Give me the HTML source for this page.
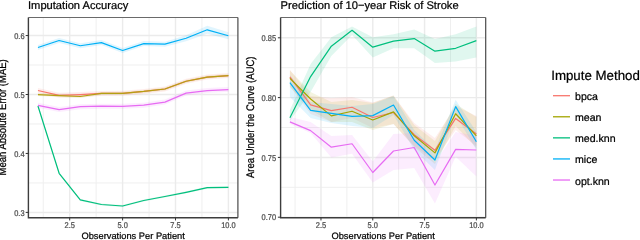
<!DOCTYPE html>
<html><head><meta charset="utf-8"><style>
html,body{margin:0;padding:0;background:#fff;width:640px;height:240px;overflow:hidden}
svg{display:block;will-change:transform}
text{font-family:"Liberation Sans",sans-serif;text-rendering:geometricPrecision;stroke-width:0.22px}
</style></head><body>
<svg width="640" height="240" viewBox="0 0 640 240">
<rect x="0" y="0" width="640" height="240" fill="#fff"/>

<rect x="28.4" y="17.5" width="209.5" height="200.25" fill="#fff"/>
<line x1="43.25" y1="17.5" x2="43.25" y2="217.75" stroke="#EFEFEF" stroke-width="1.0"/>
<line x1="96.15" y1="17.5" x2="96.15" y2="217.75" stroke="#EFEFEF" stroke-width="1.0"/>
<line x1="149.05" y1="17.5" x2="149.05" y2="217.75" stroke="#EFEFEF" stroke-width="1.0"/>
<line x1="201.95" y1="17.5" x2="201.95" y2="217.75" stroke="#EFEFEF" stroke-width="1.0"/>
<line x1="28.4" y1="182.93" x2="237.9" y2="182.93" stroke="#EFEFEF" stroke-width="1.0"/>
<line x1="28.4" y1="123.97" x2="237.9" y2="123.97" stroke="#EFEFEF" stroke-width="1.0"/>
<line x1="28.4" y1="65.02" x2="237.9" y2="65.02" stroke="#EFEFEF" stroke-width="1.0"/>
<line x1="69.70" y1="17.5" x2="69.70" y2="217.75" stroke="#EBEBEB" stroke-width="1.45"/>
<line x1="122.60" y1="17.5" x2="122.60" y2="217.75" stroke="#EBEBEB" stroke-width="1.45"/>
<line x1="175.50" y1="17.5" x2="175.50" y2="217.75" stroke="#EBEBEB" stroke-width="1.45"/>
<line x1="228.40" y1="17.5" x2="228.40" y2="217.75" stroke="#EBEBEB" stroke-width="1.45"/>
<line x1="28.4" y1="212.40" x2="237.9" y2="212.40" stroke="#EBEBEB" stroke-width="1.45"/>
<line x1="28.4" y1="153.45" x2="237.9" y2="153.45" stroke="#EBEBEB" stroke-width="1.45"/>
<line x1="28.4" y1="94.50" x2="237.9" y2="94.50" stroke="#EBEBEB" stroke-width="1.45"/>
<line x1="28.4" y1="35.55" x2="237.9" y2="35.55" stroke="#EBEBEB" stroke-width="1.45"/>
<polygon points="37.96,88.00 59.12,92.80 80.28,92.10 101.44,90.95 122.60,90.80 143.76,88.90 164.92,86.50 186.08,78.75 207.24,74.60 228.40,73.10 228.40,78.10 207.24,79.60 186.08,83.75 164.92,91.50 143.76,93.90 122.60,95.80 101.44,95.95 80.28,97.10 59.12,97.80 37.96,93.00" fill="#F8766D" fill-opacity="0.12"/>
<polygon points="37.96,93.10 59.12,94.10 80.28,95.00 101.44,91.95 122.60,91.80 143.76,89.90 164.92,87.50 186.08,79.75 207.24,75.60 228.40,74.10 228.40,77.10 207.24,78.60 186.08,82.75 164.92,90.50 143.76,92.90 122.60,94.80 101.44,94.95 80.28,98.00 59.12,97.10 37.96,96.10" fill="#A3A500" fill-opacity="0.12"/>
<polygon points="37.96,105.00 59.12,172.30 80.28,198.90 101.44,203.50 122.60,205.00 143.76,199.50 164.92,195.50 186.08,191.30 207.24,186.70 228.40,186.30 228.40,188.30 207.24,188.70 186.08,193.30 164.92,197.50 143.76,201.50 122.60,207.00 101.44,205.50 80.28,200.90 59.12,174.30 37.96,107.00" fill="#00BF7D" fill-opacity="0.12"/>
<polygon points="37.96,45.00 59.12,38.00 80.28,43.25 101.44,40.10 122.60,48.00 143.76,41.10 164.92,41.70 186.08,35.25 207.24,25.80 228.40,32.25 228.40,39.25 207.24,33.80 186.08,41.25 164.92,46.70 143.76,46.10 122.60,53.00 101.44,45.10 80.28,48.25 59.12,43.00 37.96,50.00" fill="#00B0F6" fill-opacity="0.12"/>
<polygon points="37.96,102.80 59.12,107.10 80.28,104.20 101.44,103.70 122.60,103.80 143.76,102.70 164.92,99.60 186.08,90.60 207.24,88.10 228.40,87.10 228.40,92.10 207.24,93.10 186.08,95.60 164.92,104.60 143.76,107.70 122.60,108.80 101.44,108.70 80.28,109.20 59.12,112.10 37.96,107.80" fill="#E76BF3" fill-opacity="0.12"/>
<polyline points="37.96,90.50 59.12,95.30 80.28,94.60 101.44,93.45 122.60,93.30 143.76,91.40 164.92,89.00 186.08,81.25 207.24,77.10 228.40,75.60" fill="none" stroke="#F8766D" stroke-width="1.2" stroke-linejoin="round"/>
<polyline points="37.96,94.60 59.12,95.60 80.28,96.50 101.44,93.45 122.60,93.30 143.76,91.40 164.92,89.00 186.08,81.25 207.24,77.10 228.40,75.60" fill="none" stroke="#B5A012" stroke-width="1.2" stroke-linejoin="round"/>
<polyline points="37.96,106.00 59.12,173.30 80.28,199.90 101.44,204.50 122.60,206.00 143.76,200.50 164.92,196.50 186.08,192.30 207.24,187.70 228.40,187.30" fill="none" stroke="#00BF7D" stroke-width="1.2" stroke-linejoin="round"/>
<polyline points="37.96,47.50 59.12,40.50 80.28,45.75 101.44,42.60 122.60,50.50 143.76,43.60 164.92,44.20 186.08,38.25 207.24,29.80 228.40,35.75" fill="none" stroke="#00B0F6" stroke-width="1.2" stroke-linejoin="round"/>
<polyline points="37.96,105.30 59.12,109.60 80.28,106.70 101.44,106.20 122.60,106.30 143.76,105.20 164.92,102.10 186.08,93.10 207.24,90.60 228.40,89.60" fill="none" stroke="#E76BF3" stroke-width="1.2" stroke-linejoin="round"/>
<line x1="28.4" y1="17.5" x2="237.9" y2="17.5" stroke="#6a6a6a" stroke-width="1"/>
<line x1="237.9" y1="17.5" x2="237.9" y2="217.75" stroke="#4a4a4a" stroke-width="1.2"/>
<polyline points="28.4,17.5 28.4,217.75 237.9,217.75" fill="none" stroke="#3d3d3d" stroke-width="1.4"/>
<line x1="25.7" y1="212.40" x2="28.4" y2="212.40" stroke="#333" stroke-width="1"/>
<text transform="translate(24.55,215.60) scale(1,1.12)" font-size="7.45" fill="#4D4D4D" stroke="#4D4D4D" stroke-width="0.08" text-anchor="end">0.3</text>
<line x1="25.7" y1="153.45" x2="28.4" y2="153.45" stroke="#333" stroke-width="1"/>
<text transform="translate(24.55,156.65) scale(1,1.12)" font-size="7.45" fill="#4D4D4D" stroke="#4D4D4D" stroke-width="0.08" text-anchor="end">0.4</text>
<line x1="25.7" y1="94.50" x2="28.4" y2="94.50" stroke="#333" stroke-width="1"/>
<text transform="translate(24.55,97.70) scale(1,1.12)" font-size="7.45" fill="#4D4D4D" stroke="#4D4D4D" stroke-width="0.08" text-anchor="end">0.5</text>
<line x1="25.7" y1="35.55" x2="28.4" y2="35.55" stroke="#333" stroke-width="1"/>
<text transform="translate(24.55,38.75) scale(1,1.12)" font-size="7.45" fill="#4D4D4D" stroke="#4D4D4D" stroke-width="0.08" text-anchor="end">0.6</text>
<line x1="69.70" y1="217.75" x2="69.70" y2="220.45" stroke="#333" stroke-width="1"/>
<text transform="translate(69.70,227.9) scale(1,1.12)" font-size="7.45" fill="#4D4D4D" stroke="#4D4D4D" stroke-width="0.08" text-anchor="middle">2.5</text>
<line x1="122.60" y1="217.75" x2="122.60" y2="220.45" stroke="#333" stroke-width="1"/>
<text transform="translate(122.60,227.9) scale(1,1.12)" font-size="7.45" fill="#4D4D4D" stroke="#4D4D4D" stroke-width="0.08" text-anchor="middle">5.0</text>
<line x1="175.50" y1="217.75" x2="175.50" y2="220.45" stroke="#333" stroke-width="1"/>
<text transform="translate(175.50,227.9) scale(1,1.12)" font-size="7.45" fill="#4D4D4D" stroke="#4D4D4D" stroke-width="0.08" text-anchor="middle">7.5</text>
<line x1="228.40" y1="217.75" x2="228.40" y2="220.45" stroke="#333" stroke-width="1"/>
<text transform="translate(228.40,227.9) scale(1,1.12)" font-size="7.45" fill="#4D4D4D" stroke="#4D4D4D" stroke-width="0.08" text-anchor="middle">10.0</text>
<text x="133.15" y="238.7" font-size="9.3" fill="#000" stroke="#000" stroke-width="0.1" text-anchor="middle">Observations Per Patient</text>
<text transform="translate(6.2,117.3) rotate(-90) scale(1,1.16)" x="0" y="0" font-size="9.5" fill="#000" stroke="#000" stroke-width="0.05" text-anchor="middle">Mean Absolute Error (MAE)</text>
<text x="28.0" y="9.0" font-size="11.15" fill="#000" stroke="#000" stroke-width="0.15">Imputation Accuracy</text>
<rect x="280.6" y="17.5" width="205.09999999999997" height="200.25" fill="#fff"/>
<line x1="295.08" y1="17.5" x2="295.08" y2="217.75" stroke="#EFEFEF" stroke-width="1.0"/>
<line x1="346.88" y1="17.5" x2="346.88" y2="217.75" stroke="#EFEFEF" stroke-width="1.0"/>
<line x1="398.68" y1="17.5" x2="398.68" y2="217.75" stroke="#EFEFEF" stroke-width="1.0"/>
<line x1="450.48" y1="17.5" x2="450.48" y2="217.75" stroke="#EFEFEF" stroke-width="1.0"/>
<line x1="280.6" y1="187.30" x2="485.7" y2="187.30" stroke="#EFEFEF" stroke-width="1.0"/>
<line x1="280.6" y1="127.50" x2="485.7" y2="127.50" stroke="#EFEFEF" stroke-width="1.0"/>
<line x1="280.6" y1="67.70" x2="485.7" y2="67.70" stroke="#EFEFEF" stroke-width="1.0"/>
<line x1="320.98" y1="17.5" x2="320.98" y2="217.75" stroke="#EBEBEB" stroke-width="1.45"/>
<line x1="372.78" y1="17.5" x2="372.78" y2="217.75" stroke="#EBEBEB" stroke-width="1.45"/>
<line x1="424.58" y1="17.5" x2="424.58" y2="217.75" stroke="#EBEBEB" stroke-width="1.45"/>
<line x1="476.38" y1="17.5" x2="476.38" y2="217.75" stroke="#EBEBEB" stroke-width="1.45"/>
<line x1="280.6" y1="217.20" x2="485.7" y2="217.20" stroke="#EBEBEB" stroke-width="1.45"/>
<line x1="280.6" y1="157.40" x2="485.7" y2="157.40" stroke="#EBEBEB" stroke-width="1.45"/>
<line x1="280.6" y1="97.60" x2="485.7" y2="97.60" stroke="#EBEBEB" stroke-width="1.45"/>
<line x1="280.6" y1="37.80" x2="485.7" y2="37.80" stroke="#EBEBEB" stroke-width="1.45"/>
<polygon points="289.90,69.80 310.62,96.00 331.34,98.00 352.06,97.00 372.78,102.50 393.50,95.50 414.22,123.00 434.94,138.00 455.66,106.00 476.38,116.00 476.38,146.00 455.66,130.00 434.94,160.00 414.22,146.00 393.50,124.00 372.78,128.00 352.06,118.00 331.34,122.00 310.62,114.00 289.90,86.00" fill="#F8766D" fill-opacity="0.12"/>
<polygon points="289.90,70.50 310.62,92.00 331.34,102.00 352.06,100.00 372.78,103.00 393.50,95.50 414.22,125.00 434.94,141.00 455.66,104.00 476.38,117.00 476.38,148.00 455.66,126.00 434.94,164.00 414.22,147.00 393.50,124.00 372.78,130.00 352.06,122.00 331.34,122.00 310.62,110.00 289.90,87.00" fill="#A3A500" fill-opacity="0.12"/>
<polygon points="289.90,110.00 310.62,64.00 331.34,37.30 352.06,26.40 372.78,37.30 393.50,34.20 414.22,29.50 434.94,38.90 455.66,34.20 476.38,26.40 476.38,57.60 455.66,61.40 434.94,63.00 414.22,48.25 393.50,48.25 372.78,57.60 352.06,35.10 331.34,56.00 310.62,92.00 289.90,121.00" fill="#00BF7D" fill-opacity="0.12"/>
<polygon points="289.90,75.00 310.62,102.00 331.34,104.00 352.06,106.00 372.78,104.00 393.50,96.00 414.22,130.00 434.94,150.00 455.66,99.70 476.38,132.00 476.38,150.00 455.66,115.00 434.94,170.00 414.22,150.00 393.50,115.00 372.78,128.00 352.06,126.00 331.34,123.00 310.62,118.00 289.90,97.00" fill="#00B0F6" fill-opacity="0.12"/>
<polygon points="289.90,117.00 310.62,122.00 331.34,136.00 352.06,135.00 372.78,161.60 393.50,134.00 414.22,133.00 434.94,162.50 455.66,132.00 476.38,136.00 476.38,176.50 455.66,156.70 434.94,203.50 414.22,168.00 393.50,170.00 372.78,182.50 352.06,153.75 331.34,157.50 310.62,133.00 289.90,124.00" fill="#E76BF3" fill-opacity="0.12"/>
<polyline points="289.90,76.80 310.62,104.80 331.34,110.60 352.06,107.25 372.78,117.50 393.50,112.50 414.22,134.70 434.94,150.30 455.66,118.40 476.38,134.00" fill="none" stroke="#F8766D" stroke-width="1.2" stroke-linejoin="round"/>
<polyline points="289.90,78.30 310.62,99.00 331.34,115.90 352.06,111.25 372.78,120.00 393.50,111.90 414.22,135.80 434.94,152.90 455.66,113.75 476.38,135.80" fill="none" stroke="#A3A500" stroke-width="1.2" stroke-linejoin="round"/>
<polyline points="289.90,117.75 310.62,76.60 331.34,46.20 352.06,30.30 372.78,47.20 393.50,41.20 414.22,38.60 434.94,51.20 455.66,48.30 476.38,40.60" fill="none" stroke="#00BF7D" stroke-width="1.2" stroke-linejoin="round"/>
<polyline points="289.90,82.70 310.62,110.40 331.34,113.45 352.06,116.30 372.78,115.60 393.50,105.00 414.22,140.30 434.94,160.00 455.66,106.60 476.38,141.80" fill="none" stroke="#00B0F6" stroke-width="1.2" stroke-linejoin="round"/>
<polyline points="289.90,121.90 310.62,130.60 331.34,147.20 352.06,143.75 372.78,172.50 393.50,151.00 414.22,147.50 434.94,185.00 455.66,149.40 476.38,150.00" fill="none" stroke="#E76BF3" stroke-width="1.2" stroke-linejoin="round"/>
<line x1="280.6" y1="17.5" x2="485.7" y2="17.5" stroke="#6a6a6a" stroke-width="1"/>
<line x1="485.7" y1="17.5" x2="485.7" y2="217.75" stroke="#4a4a4a" stroke-width="1.2"/>
<polyline points="280.6,17.5 280.6,217.75 485.7,217.75" fill="none" stroke="#3d3d3d" stroke-width="1.4"/>
<line x1="277.90000000000003" y1="217.20" x2="280.6" y2="217.20" stroke="#333" stroke-width="1"/>
<text transform="translate(276.1,220.40) scale(1,1.12)" font-size="7.45" fill="#4D4D4D" stroke="#4D4D4D" stroke-width="0.08" text-anchor="end">0.70</text>
<line x1="277.90000000000003" y1="157.40" x2="280.6" y2="157.40" stroke="#333" stroke-width="1"/>
<text transform="translate(276.1,160.60) scale(1,1.12)" font-size="7.45" fill="#4D4D4D" stroke="#4D4D4D" stroke-width="0.08" text-anchor="end">0.75</text>
<line x1="277.90000000000003" y1="97.60" x2="280.6" y2="97.60" stroke="#333" stroke-width="1"/>
<text transform="translate(276.1,100.80) scale(1,1.12)" font-size="7.45" fill="#4D4D4D" stroke="#4D4D4D" stroke-width="0.08" text-anchor="end">0.80</text>
<line x1="277.90000000000003" y1="37.80" x2="280.6" y2="37.80" stroke="#333" stroke-width="1"/>
<text transform="translate(276.1,41.00) scale(1,1.12)" font-size="7.45" fill="#4D4D4D" stroke="#4D4D4D" stroke-width="0.08" text-anchor="end">0.85</text>
<line x1="320.98" y1="217.75" x2="320.98" y2="220.45" stroke="#333" stroke-width="1"/>
<text transform="translate(320.98,227.9) scale(1,1.12)" font-size="7.45" fill="#4D4D4D" stroke="#4D4D4D" stroke-width="0.08" text-anchor="middle">2.5</text>
<line x1="372.78" y1="217.75" x2="372.78" y2="220.45" stroke="#333" stroke-width="1"/>
<text transform="translate(372.78,227.9) scale(1,1.12)" font-size="7.45" fill="#4D4D4D" stroke="#4D4D4D" stroke-width="0.08" text-anchor="middle">5.0</text>
<line x1="424.58" y1="217.75" x2="424.58" y2="220.45" stroke="#333" stroke-width="1"/>
<text transform="translate(424.58,227.9) scale(1,1.12)" font-size="7.45" fill="#4D4D4D" stroke="#4D4D4D" stroke-width="0.08" text-anchor="middle">7.5</text>
<line x1="476.38" y1="217.75" x2="476.38" y2="220.45" stroke="#333" stroke-width="1"/>
<text transform="translate(476.38,227.9) scale(1,1.12)" font-size="7.45" fill="#4D4D4D" stroke="#4D4D4D" stroke-width="0.08" text-anchor="middle">10.0</text>
<text x="383.15" y="238.7" font-size="9.3" fill="#000" stroke="#000" stroke-width="0.1" text-anchor="middle">Observations Per Patient</text>
<text transform="translate(254.3,117.3) rotate(-90) scale(1,1.16)" x="0" y="0" font-size="9.5" fill="#000" stroke="#000" stroke-width="0.05" text-anchor="middle">Area Under the Curve (AUC)</text>
<text x="280.6" y="9.0" font-size="11.15" fill="#000" stroke="#000" stroke-width="0.15">Prediction of 10&#8722;year Risk of Stroke</text>
<text x="551.2" y="80" font-size="13.3" fill="#000" stroke="#000">Impute Method</text>
<line x1="553" y1="95.70" x2="570" y2="95.70" stroke="#F8766D" stroke-width="1.3"/>
<text x="575" y="100.20" font-size="10.6" fill="#000" stroke="#000">bpca</text>
<line x1="553" y1="116.78" x2="570" y2="116.78" stroke="#A3A500" stroke-width="1.3"/>
<text x="575" y="121.28" font-size="10.6" fill="#000" stroke="#000">mean</text>
<line x1="553" y1="137.86" x2="570" y2="137.86" stroke="#00BF7D" stroke-width="1.3"/>
<text x="575" y="142.36" font-size="10.6" fill="#000" stroke="#000">med.knn</text>
<line x1="553" y1="158.94" x2="570" y2="158.94" stroke="#00B0F6" stroke-width="1.3"/>
<text x="575" y="163.44" font-size="10.6" fill="#000" stroke="#000">mice</text>
<line x1="553" y1="180.02" x2="570" y2="180.02" stroke="#E76BF3" stroke-width="1.3"/>
<text x="575" y="184.52" font-size="10.6" fill="#000" stroke="#000">opt.knn</text>
</svg></body></html>
